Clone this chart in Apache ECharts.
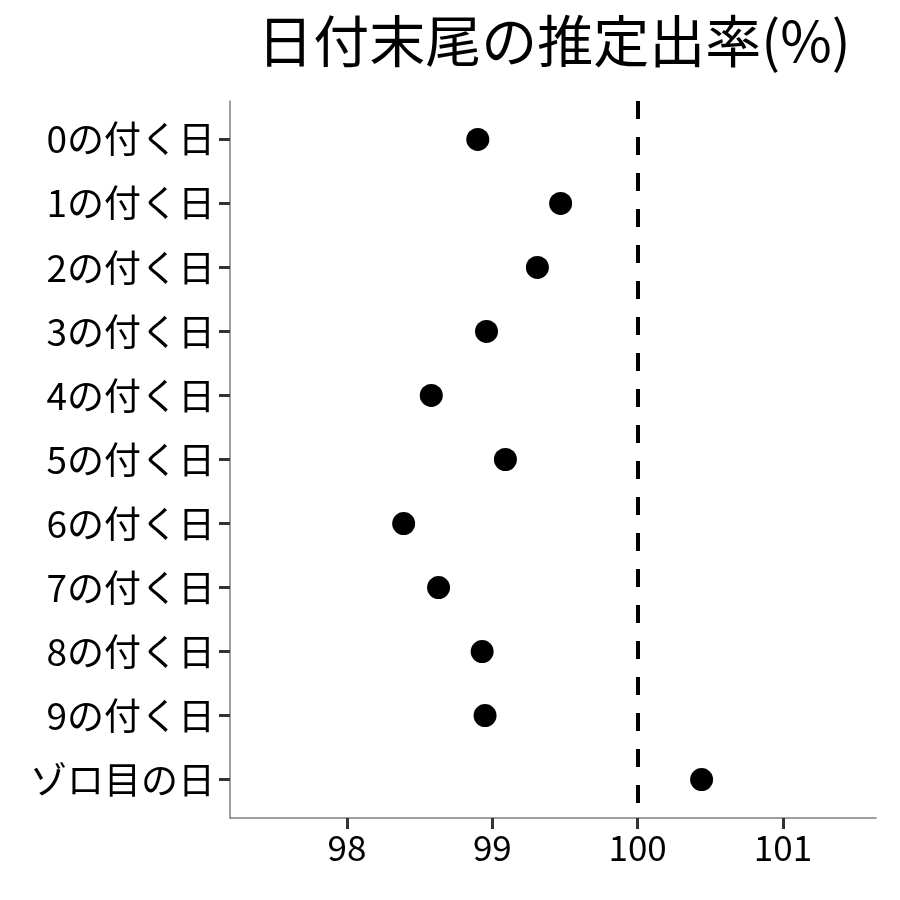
<!DOCTYPE html>
<html><head><meta charset="utf-8">
<script src="https://cdn.jsdelivr.net/npm/echarts@6/dist/echarts.min.js"></script>
<style>html,body{margin:0;padding:0;background:#fff}#c{width:900px;height:900px}</style>
</head><body><div id="c"></div>
<script>
const titleText = '日付末尾の推定出率(%)';
const categories = ['0の付く日','1の付く日','2の付く日','3の付く日','4の付く日','5の付く日','6の付く日','7の付く日','8の付く日','9の付く日','ゾロ目の日'];
const rates = [98.90, 99.47, 99.31, 98.96, 98.58, 99.09, 98.39, 98.63, 98.93, 98.95, 100.44];
const xTicks = [98, 99, 100, 101];
const refValue = 100;

const font = '"Noto Sans CJK JP", "Noto Sans", sans-serif';
const chart = echarts.init(document.getElementById('c'), null, {renderer: 'canvas'});
chart.setOption({
  animation: false,
  backgroundColor: '#fff',
  title: {
    text: titleText, left: 549, top: 8, textAlign: 'center',
    textStyle: {fontFamily: font, fontSize: 56, fontWeight: 'normal', color: '#000'}
  },
  grid: {left: 230, right: 24, top: 101, bottom: 82},
  xAxis: {
    type: 'value', min: 97.195, max: 101.64,
    splitLine: {show: false},
    axisLine: {show: true, onZero: false, lineStyle: {color: '#7f7f7f', width: 1.5}},
    axisTick: {show: true, length: 11, customValues: xTicks, lineStyle: {color: '#333', width: 3}},
    axisLabel: {customValues: xTicks, fontFamily: font, fontSize: 35, color: '#000', margin: 12}
  },
  yAxis: {
    type: 'value', min: -0.6, max: 10.6, inverse: true,
    splitLine: {show: false},
    axisLine: {show: true, onZero: false, lineStyle: {color: '#7f7f7f', width: 1.5}},
    axisTick: {show: true, length: 11, customValues: categories.map((c, i) => i), lineStyle: {color: '#333', width: 3}},
    axisLabel: {
      customValues: categories.map((c, i) => i),
      formatter: v => categories[Math.round(v)] || '',
      fontFamily: font, fontSize: 37, color: '#000', margin: 15
    }
  },
  series: [{
    type: 'scatter',
    symbol: 'circle', symbolSize: 23,
    itemStyle: {color: '#000', opacity: 1},
    data: rates.map((r, i) => [r, i]),
    markLine: {
      silent: true, symbol: 'none',
      label: {show: false},
      lineStyle: {color: '#000', type: [18, 18], width: 4},
      data: [{xAxis: refValue}]
    }
  }]
});
</script></body></html>
